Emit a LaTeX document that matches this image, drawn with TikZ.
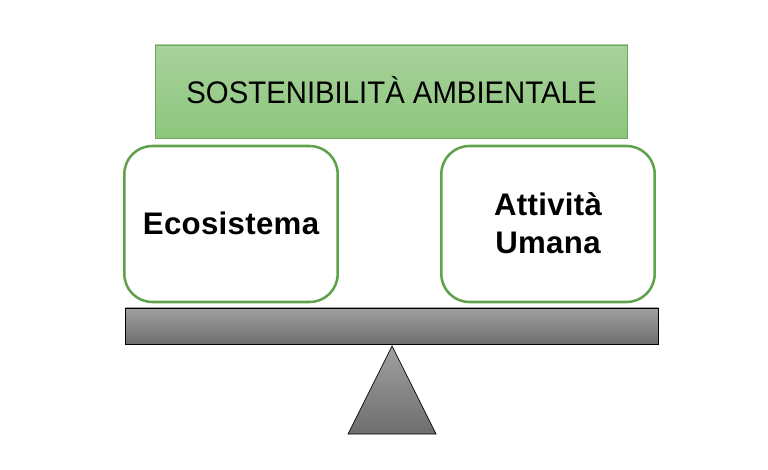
\documentclass[tikz,border=0pt]{standalone}
\usepackage{fontspec}
\setmainfont{Liberation Sans}
\newfontfamily\panfont[LetterSpace=1.0]{Liberation Sans}
\newfontfamily\titlefont[FakeStretch=0.94]{Liberation Sans}
\usetikzlibrary{shapes.geometric}
\definecolor{gtop}{HTML}{A9D29B}
\definecolor{gbot}{HTML}{8CC67C}
\definecolor{tline}{HTML}{6FA860}
\definecolor{gline}{HTML}{5FA24A}
\definecolor{ggtop}{HTML}{A0A0A0}
\definecolor{ggbot}{HTML}{6E6E6E}
\tikzset{
 px/.style={x=0.75pt,y=-0.75pt},
 title/.style={draw=tline,line width=0.6pt,top color=gtop,bottom color=gbot,minimum width=354.5pt,minimum height=69.75pt,inner sep=0pt,font=\titlefont\fontsize{23.4}{28}\selectfont,text=black},
 pan/.style={draw=gline,line width=1.9pt,fill=white,rounded corners=21pt,minimum width=160pt,minimum height=117pt,inner sep=0pt,align=center,font=\panfont\fontsize{23.4}{28.5}\selectfont\bfseries,text=black},
 beam/.style={draw=black,line width=0.5pt,top color=ggtop,bottom color=ggbot,minimum width=400pt,minimum height=27pt,inner sep=0pt},
 pivot/.style={draw=black,line width=0.5pt,top color=ggtop,bottom color=ggbot}
}
\begin{document}
\begin{tikzpicture}[px]
\useasboundingbox (0,0) rectangle (768,470);
\node[title] (t) at (391.5,91.5) {\raisebox{2.5pt}{SOSTENIBILITÀ AMBIENTALE}};
\node[pan] (e) at (231,224) {\raisebox{1.5pt}{Ecosistema}};
\node[pan] (a) at (548,224) {\raisebox{1.5pt}{Attività}\\\raisebox{1.5pt}{Umana}};
\node[beam] (b) at (392,326) {};
\path[pivot] (392,346) -- (436,434) -- (348,434) -- cycle;
\end{tikzpicture}
\end{document}
